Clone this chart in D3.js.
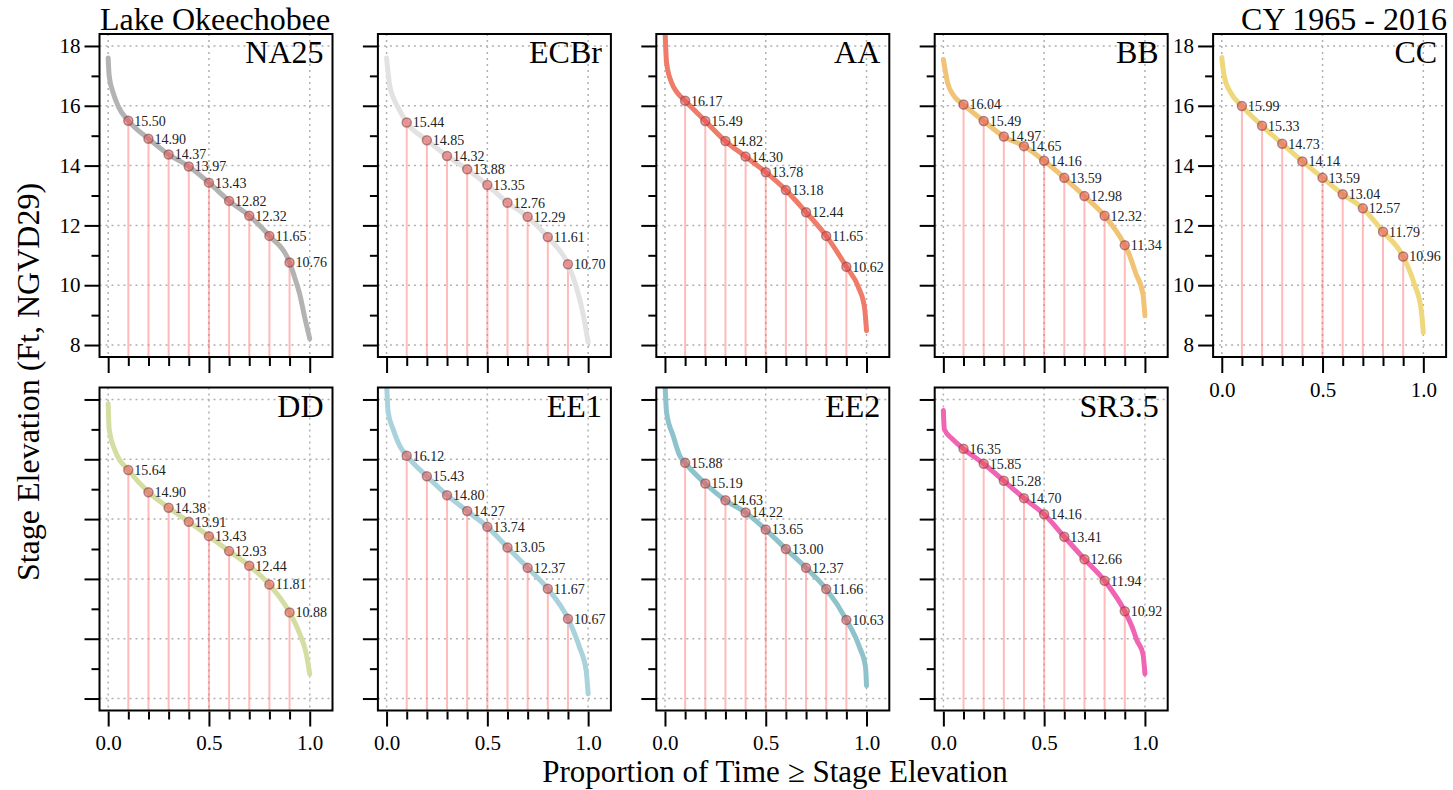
<!DOCTYPE html>
<html>
<head>
<meta charset="utf-8">
<script src="https://d3js.org/d3.v7.min.js"></script>
<style>
body { margin: 0; background: #fff; }
svg, svg text { font-family: "Liberation Serif", "Times New Roman", serif !important; }
</style>
</head>
<body>
<div id="chart-area"></div>
<script>
// panels, in drawing order (row 1 then row 2)
var panelNames = ["NA25", "ECBr", "AA", "BB", "CC", "DD", "EE1", "EE2", "SR3.5"];
var curveColors = ["#b3b3b3", "#e2e2e2", "#ef7b69", "#f0c377", "#efd77c", "#d5dea2", "#a9d3dc", "#8fc3cc", "#f064b4"];

// exceedance probabilities of the marked points
var probs = [0.1, 0.2, 0.3, 0.4, 0.5, 0.6, 0.7, 0.8, 0.9];

// stage at each probability (labelled values)
var stageNA25 = [15.50, 14.90, 14.37, 13.97, 13.43, 12.82, 12.32, 11.65, 10.76];
var stageECBr = [15.44, 14.85, 14.32, 13.88, 13.35, 12.76, 12.29, 11.61, 10.70];
var stageAA   = [16.17, 15.49, 14.82, 14.30, 13.78, 13.18, 12.44, 11.65, 10.62];
var stageBB   = [16.04, 15.49, 14.97, 14.65, 14.16, 13.59, 12.98, 12.32, 11.34];
var stageCC   = [15.99, 15.33, 14.73, 14.14, 13.59, 13.04, 12.57, 11.79, 10.96];
var stageDD   = [15.64, 14.90, 14.38, 13.91, 13.43, 12.93, 12.44, 11.81, 10.88];
var stageEE1  = [16.12, 15.43, 14.80, 14.27, 13.74, 13.05, 12.37, 11.67, 10.67];
var stageEE2  = [15.88, 15.19, 14.63, 14.22, 13.65, 13.00, 12.37, 11.66, 10.63];
var stageSR35 = [16.35, 15.85, 15.28, 14.70, 14.16, 13.41, 12.66, 11.94, 10.92];

// ends of the duration curves [proportion, stage]
var headNA25 = [[0, 17.6], [0.005, 17.0], [0.025, 16.43], [0.05, 15.98]];
var tailNA25 = [[0.925, 10.27], [0.95, 9.71], [0.975, 8.93], [1, 8.21]];
var headECBr = [[0, 17.6], [0.016, 16.66], [0.035, 16.25], [0.058, 15.93]];
var tailECBr = [[0.942, 9.93], [0.975, 9.04], [1, 8.09]];
var headAA   = [[0, 18.6], [0.008, 17.44], [0.033, 16.77], [0.06, 16.45]];
var tailAA   = [[0.96, 9.93], [0.99, 9.26], [1, 8.48]];
var headBB   = [[0, 17.55], [0.021, 16.77], [0.05, 16.35]];
var tailBB   = [[0.92, 11.06], [0.955, 10.39], [0.99, 9.71], [1, 8.98]];
var headCC   = [[0, 17.61], [0.012, 16.99], [0.045, 16.43]];
var tailCC   = [[0.955, 10.05], [0.99, 9.15], [1, 8.42]];
var headDD   = [[0, 17.86], [0.005, 17.01], [0.038, 16.23]];
var tailDD   = [[0.95, 10.17], [0.983, 9.49], [1, 8.82]];
var headEE1  = [[0, 18.6], [0.008, 17.57], [0.033, 17.0], [0.066, 16.44]];
var tailEE1  = [[0.957, 9.72], [0.99, 8.94], [1, 8.16]];
var headEE2  = [[0, 18.6], [0.008, 17.57], [0.041, 16.78], [0.074, 16.11]];
var tailEE2  = [[0.965, 9.72], [0.995, 9.05], [1, 8.43]];
var headSR35 = [[0, 17.63], [0.005, 17.0], [0.046, 16.67]];
var tailSR35 = [[0.936, 10.4], [0.96, 9.95], [0.99, 9.5], [1, 8.83]];

// axis ticks
var yMajorTicks = [8, 10, 12, 14, 16, 18];
var yMinorTicks = [9, 11, 13, 15, 17];
var xMajorTicks = [0, 0.5, 1];
var xMinorTicks = [0.1, 0.2, 0.3, 0.4, 0.6, 0.7, 0.8, 0.9];

var stages = [stageNA25, stageECBr, stageAA, stageBB, stageCC, stageDD, stageEE1, stageEE2, stageSR35];
var heads = [headNA25, headECBr, headAA, headBB, headCC, headDD, headEE1, headEE2, headSR35];
var tails = [tailNA25, tailECBr, tailAA, tailBB, tailCC, tailDD, tailEE1, tailEE2, tailSR35];

var fontFam = "'Liberation Serif', 'Times New Roman', serif";
var svgWidth = 1453, svgHeight = 790;
var panelW = 233, panelH = 323;
var panelLeft = 99.5, panelStep = 278.4;
var rowTops = [34, 387.5];

var svg = d3.select("#chart-area")
    .append("svg")
        .attr("width", svgWidth)
        .attr("height", svgHeight)
        .attr("font-family", fontFam);

//x scale
var x = d3.scaleLinear()
    .domain([-0.043, 1.113])
    .range([0, panelW]);

//y scale
var y = d3.scaleLinear()
    .domain([7.6, 18.4])
    .range([panelH, 0]);

var line = d3.line()
    .x(function(d){ return x(d[0]); })
    .y(function(d){ return y(d[1]); })
    .curve(d3.curveMonotoneX);

svg.append("defs").append("clipPath")
    .attr("id", "panel-clip")
  .append("rect")
    .attr("width", panelW)
    .attr("height", panelH);

panelNames.forEach(function(name, i) {
    var row = i < 5 ? 0 : 1;
    var col = i < 5 ? i : i - 5;
    var showYLabels = (i == 0 || i == 4);
    var showXLabels = (row == 1 || i == 4);

    var g = svg.append("g")
        .attr("transform", "translate(" + (panelLeft + col * panelStep) + ", " + rowTops[row] + ")");

    var pts = probs.map(function(p, j){ return [p, stages[i][j]]; });
    var curveData = heads[i].concat(pts, tails[i]);

    var inner = g.append("g").attr("clip-path", "url(#panel-clip)");

    // dotted grid
    inner.selectAll(".hgrid")
        .data(yMajorTicks)
        .enter().append("line")
            .attr("x1", 0).attr("x2", panelW)
            .attr("y1", function(d){ return y(d); })
            .attr("y2", function(d){ return y(d); })
            .attr("stroke", "#b0b0b0")
            .attr("stroke-width", 1.5)
            .attr("stroke-dasharray", "2,4");
    inner.selectAll(".vgrid")
        .data(xMajorTicks)
        .enter().append("line")
            .attr("y1", 0).attr("y2", panelH)
            .attr("x1", function(d){ return x(d); })
            .attr("x2", function(d){ return x(d); })
            .attr("stroke", "#b0b0b0")
            .attr("stroke-width", 1.5)
            .attr("stroke-dasharray", "2,4");

    // drop lines
    inner.selectAll(".drop")
        .data(pts)
        .enter().append("line")
            .attr("x1", function(d){ return x(d[0]); })
            .attr("x2", function(d){ return x(d[0]); })
            .attr("y1", panelH)
            .attr("y2", function(d){ return y(d[1]); })
            .attr("stroke", "rgba(255,120,120,0.5)")
            .attr("stroke-width", 2);

    // duration curve
    inner.append("path")
        .attr("d", line(curveData))
        .attr("fill", "none")
        .attr("stroke", curveColors[i])
        .attr("stroke-width", 5)
        .attr("stroke-linejoin", "round")
        .attr("stroke-linecap", "round");

    // points
    inner.selectAll("circle")
        .data(pts)
        .enter().append("circle")
            .attr("cx", function(d){ return x(d[0]); })
            .attr("cy", function(d){ return y(d[1]); })
            .attr("r", 4.5)
            .attr("fill", "rgba(232,80,80,0.55)")
            .attr("stroke", "rgba(120,60,60,0.55)")
            .attr("stroke-width", 1.5);

    g.selectAll(".ptlabel")
        .data(pts)
        .enter().append("text")
            .attr("x", function(d){ return x(d[0]) + 6; })
            .attr("y", function(d){ return y(d[1]); })
            .attr("dy", "0.35em")
            .attr("font-size", "14px")
            .attr("font-family", fontFam)
            .attr("fill", "#222")
            .text(function(d){ return d[1].toFixed(2); });

    // box
    g.append("rect")
        .attr("width", panelW)
        .attr("height", panelH)
        .attr("fill", "none")
        .attr("stroke", "#000")
        .attr("stroke-width", 2);

    // panel label
    g.append("text")
        .attr("x", panelW - 9)
        .attr("y", 29)
        .attr("text-anchor", "end")
        .attr("font-size", "32px")
        .text(name);

    // y axis
    var yAxisMajor = d3.axisLeft(y)
        .tickValues(yMajorTicks)
        .tickSize(15)
        .tickPadding(4)
        .tickFormat(showYLabels ? d3.format("d") : "");
    var yAxisMinor = d3.axisLeft(y)
        .tickValues(yMinorTicks)
        .tickSize(8)
        .tickFormat("");
    [yAxisMajor, yAxisMinor].forEach(function(ax) {
        var a = g.append("g").attr("class", "y-axis").call(ax)
            .attr("font-family", fontFam);
        a.select(".domain").remove();
        a.selectAll("line").attr("stroke", "#000").attr("stroke-width", 2);
        a.selectAll("text").filter(function(){ return this.textContent == ""; }).remove();
        a.selectAll("text").attr("font-size", "21px").attr("fill", "#000");
    });

    // x axis
    var xAxisMajor = d3.axisBottom(x)
        .tickValues(xMajorTicks)
        .tickSize(15)
        .tickPadding(9)
        .tickFormat(showXLabels ? d3.format(".1f") : "");
    var xAxisMinor = d3.axisBottom(x)
        .tickValues(xMinorTicks)
        .tickSize(8)
        .tickFormat("");
    [xAxisMajor, xAxisMinor].forEach(function(ax) {
        var a = g.append("g")
            .attr("class", "x-axis")
            .attr("transform", "translate(0, " + (panelH + 1) + ")")
            .call(ax)
            .attr("font-family", fontFam);
        a.select(".domain").remove();
        a.selectAll("line").attr("stroke", "#000").attr("stroke-width", 2);
        a.selectAll("text").filter(function(){ return this.textContent == ""; }).remove();
        a.selectAll("text").attr("font-size", "21px").attr("fill", "#000");
    });
});

// titles
svg.append("text")
    .attr("x", 100)
    .attr("y", 30)
    .attr("font-size", "32px")
    .text("Lake Okeechobee");

svg.append("text")
    .attr("x", 1447)
    .attr("y", 30)
    .attr("text-anchor", "end")
    .attr("font-size", "32px")
    .text("CY 1965 - 2016");

//x label
svg.append("text")
    .attr("x", 775)
    .attr("y", 782)
    .attr("text-anchor", "middle")
    .attr("font-size", "31px")
    .text("Proportion of Time \u2265 Stage Elevation");

//y label
svg.append("text")
    .attr("x", -382)
    .attr("y", 39)
    .attr("text-anchor", "middle")
    .attr("transform", "rotate(-90)")
    .attr("font-size", "32px")
    .text("Stage Elevation (Ft, NGVD29)");
</script>
</body>
</html>
